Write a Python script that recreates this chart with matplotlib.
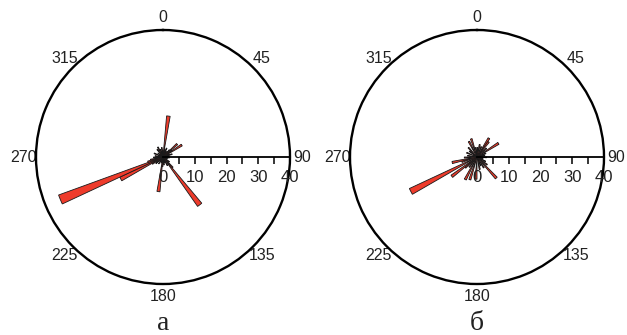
import numpy as np
import matplotlib
matplotlib.use('Agg')
import matplotlib.pyplot as plt

plt.rcParams['font.family'] = ['Liberation Sans', 'DejaVu Sans']

# rose diagrams, 5 degree sectors: sector start azimuth -> length
dir_a = [0, 5, 10, 15, 20, 30, 40, 45, 50, 55, 60, 70, 80, 95, 110, 125, 135, 140,
         150, 160, 170, 180, 185, 195, 210, 225, 235, 240, 245, 250, 255, 265,
         275, 290, 305, 320, 330, 340, 350]
len_a = [2, 13, 2.5, 1.5, 3, 2, 3, 6, 3.5, 7, 2, 3, 2, 2, 1.5, 2.5, 4.5, 19,
         3, 2, 2.5, 3, 11, 2, 2.5, 3, 4, 15, 35, 5, 4, 3,
         2.5, 3, 2, 3, 3.5, 2.5, 3]

dir_b = [0, 10, 20, 30, 35, 45, 55, 65, 75, 90, 105, 115, 125, 135, 145, 155,
         165, 180, 195, 205, 215, 225, 230, 240, 250, 255, 265, 275, 290, 305,
         315, 330, 340, 350]
len_b = [3, 4, 3.5, 7, 6, 4, 8, 3, 2.5, 3, 2, 3, 4, 9, 4, 3,
         4, 7, 7.5, 8, 4, 5, 10, 23.5, 5, 8, 4, 3, 3.5, 3,
         4, 5.5, 6, 3]

azimuth_ticks = [0, 45, 90, 135, 180, 225, 270, 315]
radial_ticks = [0, 10, 20, 30, 40]
panel_names = ['а', 'б']

SECTOR = 5
RMAX = 40


def rose(ax, dirs, lens):
    ax.set_theta_zero_location('N')
    ax.set_theta_direction(-1)
    theta = np.deg2rad(np.array(dirs) + SECTOR / 2)
    ax.bar(theta, lens, width=np.deg2rad(SECTOR), bottom=0,
           color='#EE3B2B', edgecolor='#1a1a1a', linewidth=0.6, zorder=2)
    ax.set_ylim(0, RMAX)
    ax.set_yticks([])
    ax.grid(False)
    ax.set_xticks(np.deg2rad(azimuth_ticks))
    ax.set_xticklabels([str(a) for a in azimuth_ticks], fontsize=11.5, color='#222222')
    ax.set_xticks(np.deg2rad(np.arange(22.5, 360, 45)), minor=True)
    ax.tick_params(axis='x', which='both', direction='in', length=6, width=1.1, pad=2)
    ax.spines['polar'].set_linewidth(1.7)

    # radial scale along the 90 degree direction
    ax.plot([np.pi / 2, np.pi / 2], [0, RMAX], color='k', lw=1.3, zorder=3, clip_on=False)
    ax.plot(np.full(8, np.pi / 2), np.arange(5, RMAX + 1, 5), ls='none', marker=3,
            ms=5, mew=1.1, color='k', zorder=3, clip_on=False)
    for r in radial_ticks:
        ax.annotate(str(r), xy=(np.pi / 2, r), xytext=(0, -9), textcoords='offset points',
                    ha='center', va='top', fontsize=12, color='#222222',
                    annotation_clip=False)


fig = plt.figure(figsize=(6.27, 3.35), dpi=100)
W, H = 627, 335
R = 127
for cx, dirs, lens, name in [(163, dir_a, len_a, panel_names[0]),
                             (477, dir_b, len_b, panel_names[1])]:
    cy = 157
    ax = fig.add_axes([(cx - R) / W, (H - cy - R) / H, 2 * R / W, 2 * R / H],
                      projection='polar')
    rose(ax, dirs, lens)
    fig.text(cx / W, 1 - 324 / H, name, family=['Liberation Serif', 'DejaVu Serif'],
             fontsize=20, ha='center', va='center', color='#222222')

fig.savefig('out.png', dpi=100)
